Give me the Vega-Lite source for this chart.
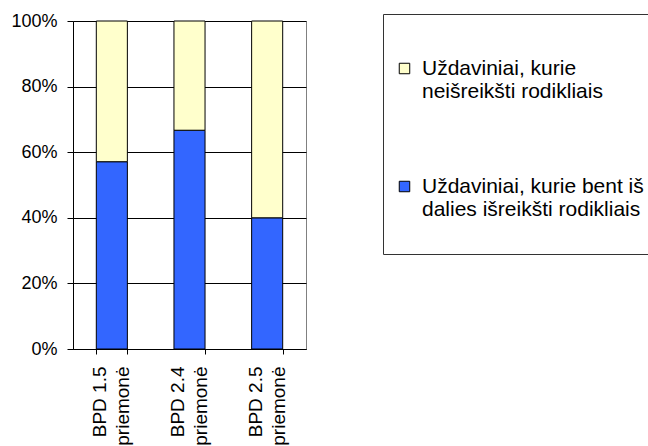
{
  "$schema": "https://vega.github.io/schema/vega-lite/v6.json",
  "width": 233,
  "height": 328,
  "autosize": {"type": "none"},
  "padding": {"left": 73, "top": 21, "right": 342, "bottom": 97},
  "background": "white",
  "config": {
    "font": "Liberation Sans",
    "view": {"stroke": "#808080", "strokeWidth": 1}
  },
  "data": {
    "values": [
      {"measure": "BPD 1.5 priemonė", "type": "Uždaviniai, kurie bent iš dalies išreikšti rodikliais", "share": 57.1, "ord": 0},
      {"measure": "BPD 1.5 priemonė", "type": "Uždaviniai, kurie neišreikšti rodikliais", "share": 42.9, "ord": 1},
      {"measure": "BPD 2.4 priemonė", "type": "Uždaviniai, kurie bent iš dalies išreikšti rodikliais", "share": 66.7, "ord": 0},
      {"measure": "BPD 2.4 priemonė", "type": "Uždaviniai, kurie neišreikšti rodikliais", "share": 33.3, "ord": 1},
      {"measure": "BPD 2.5 priemonė", "type": "Uždaviniai, kurie bent iš dalies išreikšti rodikliais", "share": 40.0, "ord": 0},
      {"measure": "BPD 2.5 priemonė", "type": "Uždaviniai, kurie neišreikšti rodikliais", "share": 60.0, "ord": 1}
    ]
  },
  "mark": {"type": "bar", "stroke": "black", "strokeWidth": 1},
  "encoding": {
    "x": {
      "field": "measure",
      "type": "nominal",
      "sort": null,
      "scale": {"paddingInner": 0.6, "paddingOuter": 0.3},
      "axis": {
        "title": null,
        "labelAngle": 270,
        "labelAlign": "right",
        "labelBaseline": "middle",
        "labelFontSize": 19,
        "labelLineHeight": 23,
        "labelColor": "black",
        "labelPadding": 12,
        "labelOffset": -12,
        "labelExpr": "indexof(datum.label, 'BPD') >= 0 ? [replace(datum.label, ' priemonė', ''), 'priemonė'] : ''",
        "tickBand": "extent",
        "tickSize": 5,
        "tickColor": "black",
        "domainColor": "black",
        "grid": false
      }
    },
    "y": {
      "field": "share",
      "type": "quantitative",
      "stack": "normalize",
      "axis": {
        "title": null,
        "values": [0, 0.2, 0.4, 0.6, 0.8, 1],
        "format": ".0%",
        "labelFontSize": 18,
        "labelColor": "black",
        "labelPadding": 10,
        "tickSize": 6,
        "tickColor": "black",
        "domainColor": "black",
        "grid": true,
        "gridColor": "black",
        "gridOpacity": 1
      }
    },
    "color": {
      "field": "type",
      "type": "nominal",
      "scale": {
        "domain": ["Uždaviniai, kurie neišreikšti rodikliais", "Uždaviniai, kurie bent iš dalies išreikšti rodikliais"],
        "range": ["#FFFFCC", "#3366FF"]
      },
      "legend": {
        "orient": "none",
        "legendX": 310,
        "legendY": -7,
        "title": " ",
        "titleFontSize": 8,
        "titlePadding": 25,
        "padding": 11,
        "strokeColor": "#333333",
        "fillColor": "white",
        "labelFontSize": 21,
        "labelLimit": 400,
        "labelLineHeight": 23,
        "labelBaseline": "middle",
        "labelColor": "black",
        "labelOffset": 7,
        "labelExpr": "datum.label == 'Uždaviniai, kurie neišreikšti rodikliais' ? ['Uždaviniai, kurie', 'neišreikšti rodikliais'] : ['Uždaviniai, kurie bent iš', 'dalies išreikšti rodikliais', '']",
        "symbolType": "square",
        "symbolSize": 110,
        "symbolStrokeColor": "black",
        "symbolStrokeWidth": 1,
        "symbolOpacity": 1,
        "rowPadding": 73
      }
    },
    "order": {"field": "ord", "type": "quantitative"}
  }
}
